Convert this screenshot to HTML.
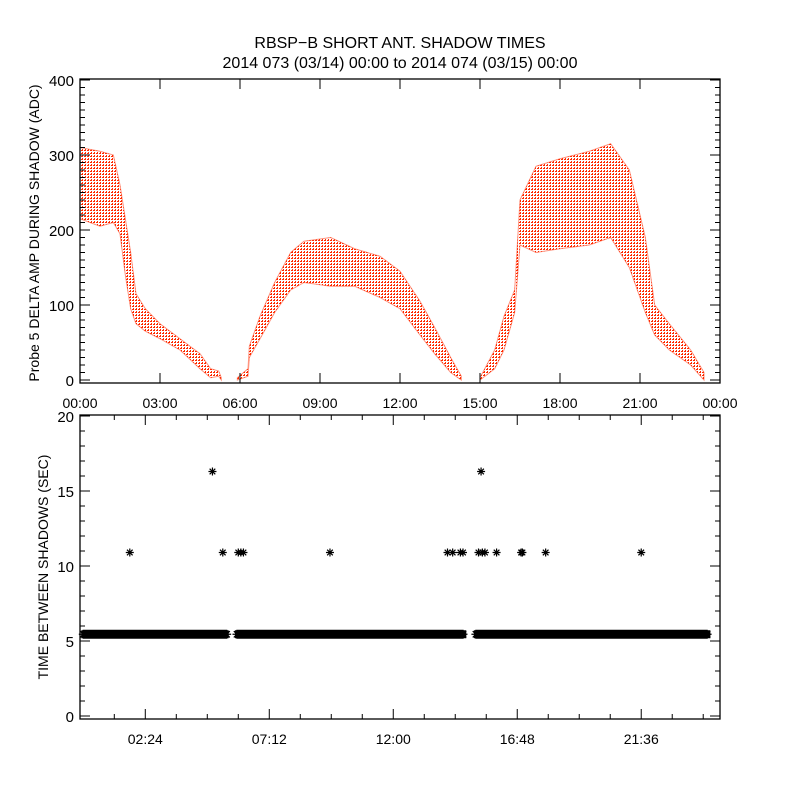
<!DOCTYPE html>
<html><head><meta charset="utf-8"><style>
body{margin:0;background:#fff}
svg{display:block}
text{font-family:"Liberation Sans",sans-serif;fill:#000}
</style></head><body>
<svg id="c" width="800" height="800" xmlns="http://www.w3.org/2000/svg">
<defs>
<pattern id="dots" width="3" height="3" patternUnits="userSpaceOnUse">
<rect x="0" y="0" width="2" height="1" fill="#ff2a00"/>
<rect x="1" y="2" width="1" height="1" fill="#ff2a00"/>
</pattern>
</defs>
<text x="400" y="48" font-size="16" text-anchor="middle">RBSP−B SHORT ANT. SHADOW TIMES</text>
<text x="400" y="68" font-size="16" text-anchor="middle">2014 073 (03/14) 00:00 to 2014 074 (03/15) 00:00</text>
<g id="topPanel"></g>
<g id="botPanel"></g>
</svg>
<script>
// ---- top panel data: envelope of scatter (hours, low, high) ----
const seg1Hours=[0,0.75,1.25,1.5,1.7,1.9,2.1,2.45,3,3.75,4.5,4.9,5.2,5.3];
const seg1Low=[215,205,210,195,140,95,75,65,55,40,15,3,5,0];
const seg1High=[310,305,300,260,215,170,115,95,75,55,35,15,12,3];
const seg2Hours=[5.9,6.3,6.35,6.75,7.3,7.9,8.4,9.4,10.3,11.25,12,12.75,13.3,13.9,14.3];
const seg2Low=[0,5,30,55,90,120,130,125,125,110,95,60,35,10,0];
const seg2High=[3,15,45,85,130,170,185,190,175,165,145,105,70,30,5];
const seg3Hours=[15,15.55,15.9,16.3,16.5,17.1,18,19.1,19.9,20.6,21.2,21.55,22.1,22.9,23.4];
const seg3Low=[0,15,40,90,180,170,175,180,190,150,90,60,40,20,0];
const seg3High=[3,40,85,120,240,285,295,305,315,280,190,100,75,40,10];
const topYTicks=[0,100,200,300,400];
const topXLabels=["00:00","03:00","06:00","09:00","12:00","15:00","18:00","21:00","00:00"];
// ---- bottom panel data ----
const bandStart=[0,5.95,15.2];
const bandEnd=[5.55,14.75,24.2];
const bandValue=[5.45,5.45,5.45];
const starHours=[1.8,5.4,6.0,6.1,6.2,9.55,14.1,14.3,14.6,14.7,15.3,15.45,15.55,16.0,16.95,17.0,17.9,21.6,5.0,15.4];
const starValues=[10.9,10.9,10.9,10.9,10.9,10.9,10.9,10.9,10.9,10.9,10.9,10.9,10.9,10.9,10.9,10.9,10.9,10.9,16.3,16.3];
const botYTicks=[0,5,10,15,20];
const botXLabels=["02:24","07:12","12:00","16:48","21:36"];
const botXLabelHours=[2.4,7.2,12,16.8,21.6];

const NS="http://www.w3.org/2000/svg";
function mk(p,t,a){const e=document.createElementNS(NS,t);for(const k in a)e.setAttribute(k,a[k]);p.appendChild(e);return e;}
const tx=h=>80+h*640/24, ty=v=>380-v*0.75;
const topG=document.getElementById('topPanel');
function band(p,H,L,U,name){
  let pts=[];H.forEach((h,i)=>pts.push(tx(h)+','+ty(U[i])));
  for(let i=H.length-1;i>=0;i--)pts.push(tx(H[i])+','+ty(L[i]));
  const e=mk(p,'polygon',{points:pts.join(' '),fill:'url(#dots)',stroke:'#ff2a00','stroke-width':'1','stroke-opacity':'0.5'});
  
  
}
band(topG,seg1Hours,seg1Low,seg1High,'scatter-pass-1');
band(topG,seg2Hours,seg2Low,seg2High,'scatter-pass-2');
band(topG,seg3Hours,seg3Low,seg3High,'scatter-pass-3');
let f=mk(topG,'rect',{x:80,y:79,width:640,height:304,fill:'none',stroke:'#000','stroke-width':1.3});


for(let v=0;v<=400;v+=10){const y=ty(v);const L=(v%100===0)?10:5;
  mk(topG,'line',{x1:80,x2:80+L,y1:y,y2:y,stroke:'#000'});mk(topG,'line',{x1:720,x2:720-L,y1:y,y2:y,stroke:'#000'});}
topYTicks.forEach(v=>{const t=mk(topG,'text',{x:74,y:ty(v)+6,'font-size':15,'text-anchor':'end'});t.textContent=v;
  
  });
topXLabels.forEach((s,i)=>{const x=tx(i*3);
  mk(topG,'line',{x1:x,x2:x,y1:383,y2:373,stroke:'#000'});mk(topG,'line',{x1:x,x2:x,y1:79,y2:89,stroke:'#000'});
  const t=mk(topG,'text',{x:x,y:408,'font-size':14,'text-anchor':'middle'});t.textContent=s;
  
  });
let yt=mk(topG,'text',{x:0,y:0,'font-size':14,'text-anchor':'middle',transform:'translate(39,233) rotate(-90)'});
yt.textContent='Probe 5 DELTA AMP DURING SHADOW (ADC)';


const bx=h=>83.3+h*25.83, by=v=>716-v*15;
const botG=document.getElementById('botPanel');
function star(x,y,r){let d='';for(let k=0;k<4;k++){const a=k*Math.PI/4;d+=`M${x-r*Math.cos(a)},${y-r*Math.sin(a)}L${x+r*Math.cos(a)},${y+r*Math.sin(a)}`;}return d;}
bandStart.forEach((s,i)=>{let d='';for(let h=s;h<=bandEnd[i];h+=0.05)d+=star(bx(h),by(bandValue[i]),4.5);
  const e=mk(botG,'path',{d:d,stroke:'#000','stroke-width':1.3});
  
  
  const r=mk(botG,'rect',{x:bx(s)-2,y:by(bandValue[i])-4,width:bx(bandEnd[i])-bx(s)+4,height:8,fill:'#000'});
  
  });
starHours.forEach((h,i)=>{const e=mk(botG,'path',{d:star(bx(h),by(starValues[i]),4),stroke:'#000','stroke-width':1.2});
  
  });
f=mk(botG,'rect',{x:80,y:415,width:640,height:304,fill:'none',stroke:'#000','stroke-width':1.3});


for(let v=0;v<=20;v+=1){const y=by(v);const L=(v%5===0)?10:5;
  mk(botG,'line',{x1:80,x2:80+L,y1:y,y2:y,stroke:'#000'});mk(botG,'line',{x1:720,x2:720-L,y1:y,y2:y,stroke:'#000'});}
botYTicks.forEach(v=>{const t=mk(botG,'text',{x:74,y:by(v)+6,'font-size':15,'text-anchor':'end'});t.textContent=v;
  
  });
for(let h=1.2;h<24.7;h+=1.2){const x=bx(h);const L=(Math.round(h/1.2)%4===2)?10:5;
  mk(botG,'line',{x1:x,x2:x,y1:719,y2:719-L,stroke:'#000'});mk(botG,'line',{x1:x,x2:x,y1:415,y2:415+L,stroke:'#000'});}
botXLabels.forEach((s,i)=>{const t=mk(botG,'text',{x:bx(botXLabelHours[i]),y:744,'font-size':14,'text-anchor':'middle'});t.textContent=s;
  
  });
yt=mk(botG,'text',{x:0,y:0,'font-size':14,'text-anchor':'middle',transform:'translate(48,567) rotate(-90)'});
yt.textContent='TIME BETWEEN SHADOWS (SEC)';


</script>
</body></html>
